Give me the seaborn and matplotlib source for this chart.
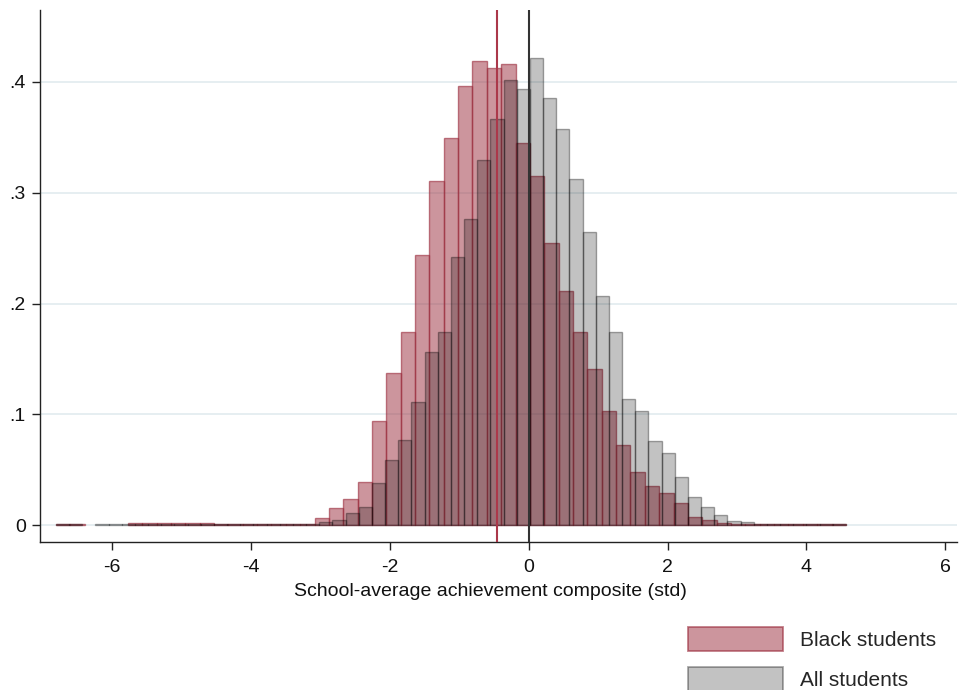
import numpy as np
import pandas as pd
import matplotlib
matplotlib.use("Agg")
import matplotlib.pyplot as plt
import matplotlib.patches as mpatches
import seaborn as sns

# ---------------- data ----------------
x_min, x_max = -6.81, 4.57          # common range of both histograms
black_heights = [
    0.001, 0.001, 0.0, 0.0, 0.0,
    0.0015, 0.0015, 0.0015, 0.0015, 0.0015, 0.0015,
    0.0008, 0.0008, 0.0008, 0.0008, 0.0008, 0.0008, 0.0008,
    0.006, 0.015, 0.0235, 0.0385, 0.094, 0.137, 0.174, 0.244, 0.311,
    0.349, 0.396, 0.419, 0.413, 0.416, 0.345, 0.315, 0.255, 0.211,
    0.174, 0.141, 0.103, 0.072, 0.048, 0.035, 0.029, 0.0196, 0.0075,
    0.0045, 0.002,
    0.001, 0.001, 0.001, 0.001, 0.001, 0.001, 0.001, 0.001,
]
all_heights = [
    0.0006, 0.0006, 0.0, 0.0008, 0.0008,
    0.0006, 0.0006, 0.0006, 0.0006, 0.0006, 0.0006, 0.0006,
    0.0006, 0.0006, 0.0006, 0.0006, 0.0006, 0.0006, 0.0006,
    0.0012, 0.003, 0.005, 0.011, 0.0165, 0.0376, 0.0587, 0.0767, 0.111,
    0.156, 0.174, 0.2417, 0.276, 0.330, 0.3666, 0.4018, 0.394, 0.4214,
    0.386, 0.358, 0.312, 0.265, 0.207, 0.174, 0.114, 0.103, 0.076,
    0.0647, 0.043, 0.025, 0.016, 0.0088, 0.0035, 0.0025, 0.001,
    0.0005, 0.0005, 0.0005, 0.0005, 0.0005, 0.0005,
]
mean_black = -0.46
mean_all = 0.0
series_labels = ["Black students", "All students"]
x_ticks = [-6, -4, -2, 0, 2, 4, 6]
y_ticks = [0, 0.1, 0.2, 0.3, 0.4]
y_tick_labels = ["0", ".1", ".2", ".3", ".4"]
x_label = "School-average achievement composite (std)"

# ---------------- styling ----------------
sns.set_style("ticks")
plt.rcParams["font.family"] = ["Liberation Sans", "DejaVu Sans"]
plt.rcParams["axes.unicode_minus"] = False

FS = 14
LEG_FS = 15
red_base = (155 / 255, 45 / 255, 61 / 255)
red_fill = red_base + (0.5,)
red_edge = red_base + (0.62,)
gray_fill = (0, 0, 0, 0.24)
gray_edge = (0, 0, 0, 0.34)

W, H = 959, 690
fig = plt.figure(figsize=(W / 100, H / 100), dpi=100)
ax = fig.add_axes([40 / W, (H - 542) / H, (957 - 40) / W, (542 - 10) / H])


def make_frame(heights):
    n = len(heights)
    edges = np.linspace(x_min, x_max, n + 1)
    centers = (edges[:-1] + edges[1:]) / 2
    return pd.DataFrame({"x": centers, "w": heights}), edges.tolist()


df_b, edges_b = make_frame(black_heights)
df_a, edges_a = make_frame(all_heights)

sns.histplot(data=df_b, x="x", weights="w", bins=edges_b, stat="count",
             facecolor=red_fill, edgecolor=red_edge, linewidth=1.0, ax=ax)
sns.histplot(data=df_a, x="x", weights="w", bins=edges_a, stat="count",
             facecolor=gray_fill, edgecolor=gray_edge, linewidth=1.0, ax=ax)
for p in ax.patches:
    if p.get_height() <= 0:
        p.set_visible(False)

ax.axvline(mean_black, color=(0.67, 0.22, 0.29), lw=1.5, zorder=5)
ax.axvline(mean_all, color="#333333", lw=1.5, zorder=5)

ax.set_xlim(-7.04, 6.17)
ax.set_ylim(-0.0153, 0.465)
ax.set_xticks(x_ticks)
ax.set_xticklabels([str(t) for t in x_ticks])
ax.set_yticks(y_ticks)
ax.set_yticklabels(y_tick_labels)
ax.yaxis.grid(True, color="#DFEAEE", lw=1.1)
ax.set_axisbelow(True)

for s in ["top", "right"]:
    ax.spines[s].set_visible(False)
for s in ["left", "bottom"]:
    ax.spines[s].set_color("#222222")
    ax.spines[s].set_linewidth(1.0)
ax.tick_params(axis="both", length=5.8, width=1.0, color="#222222",
               labelsize=FS, labelcolor="#111111")
ax.tick_params(axis="x", pad=6.5)
ax.tick_params(axis="y", pad=4.3)

ax.set_ylabel("")
ax.set_xlabel(x_label, fontsize=FS, color="#111111")
ax.xaxis.set_label_coords((490 - 40) / (957 - 40), (542 - 592) / (542 - 10))
ax.xaxis.label.set_va("center")

handles = [
    mpatches.Patch(facecolor=red_fill, edgecolor=red_edge, linewidth=1.3),
    mpatches.Patch(facecolor=gray_fill, edgecolor=gray_edge, linewidth=1.3),
]
fig.legend(handles, series_labels, loc="upper left",
           bbox_to_anchor=(688 / W, 1 - 627 / H), frameon=False,
           borderpad=0, borderaxespad=0, handlelength=4.56, handleheight=1.4,
           handletextpad=0.82, labelspacing=0.77, fontsize=LEG_FS)

fig.savefig("out.png", dpi=100)
